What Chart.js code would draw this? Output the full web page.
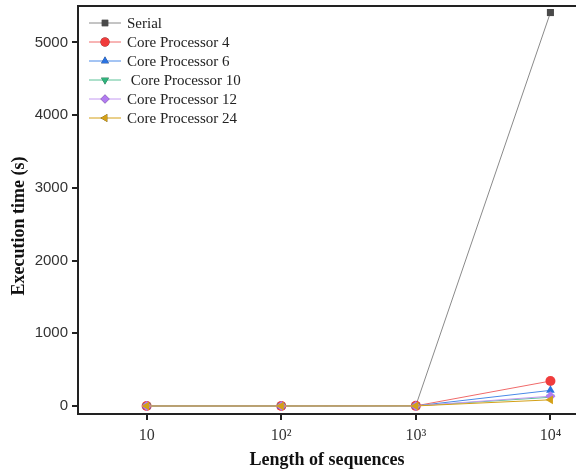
<!DOCTYPE html>
<html>
<head>
<meta charset="utf-8">
<script src="https://cdn.jsdelivr.net/npm/chart.js@4"></script>
<style>
  body { margin: 0; background: #fff; }
  #wrap { width: 576px; height: 472px; }
</style>
</head>
<body>
<div id="wrap"><canvas id="myChart" width="576" height="472"></canvas></div>
<script>
// x categories: length of sequences
const lengths = ['10', '10²', '10³', '10⁴'];

// execution time (s)
const serial = [0.5, 1, 5, 5410];
const core4  = [0.2, 0.4, 2, 343];
const core6  = [0.2, 0.3, 1.5, 215];
const core10 = [0.1, 0.3, 1.2, 120];
const core12 = [0.1, 0.3, 1.1, 135];
const core24 = [0.1, 0.2, 1, 85];

const yTicks = [0, 1000, 2000, 3000, 4000, 5000];

const names   = ['Serial', 'Core Processor 4', 'Core Processor 6', ' Core Processor 10', 'Core Processor 12', 'Core Processor 24'];
const series  = [serial, core4, core6, core10, core12, core24];
const colors  = ['#4a4a4a', '#f03c3c', '#2a72e0', '#2fb37c', '#b27cf0', '#d4a017'];
const lineCol = ['#8a8a8a', '#f06a6a', '#4a8ae8', '#5cc298', '#c49af2', '#d4a017'];
const styles  = ['rect', 'circle', 'triangle', 'triangle', 'rectRot', 'triangle'];
const rots    = [0, 0, 0, 180, 0, -90];

const toPoints = arr => arr.map((v, i) => ({x: i, y: v}));

const datasets = series.map((s, k) => ({
  label: names[k],
  data: toPoints(s),
  borderColor: lineCol[k],
  backgroundColor: colors[k],
  borderWidth: 1,
  pointStyle: styles[k],
  pointRotation: rots[k],
  pointRadius: 5,
  pointBorderWidth: 0,
  order: 6 - k,
}));

// frame top line, y title and hand drawn legend inside the plot
const extras = {
  id: 'extras',
  afterDraw(chart) {
    const ctx = chart.ctx;
    const a = chart.chartArea;
    ctx.save();
    ctx.strokeStyle = '#222';
    ctx.lineWidth = 2;
    ctx.beginPath();
    ctx.moveTo(a.left, a.top);
    ctx.lineTo(576, a.top);
    ctx.moveTo(a.right - 1, a.bottom);
    ctx.lineTo(576, a.bottom);
    ctx.stroke();

    // y axis title (sits a bit below the middle in the original)
    ctx.save();
    ctx.translate(19, 226);
    ctx.rotate(-Math.PI / 2);
    ctx.font = 'bold 18px "Liberation Serif"';
    ctx.fillStyle = '#111';
    ctx.textAlign = 'center';
    ctx.textBaseline = 'middle';
    ctx.fillText('Execution time (s)', 0, 0);
    ctx.restore();

    ctx.font = '15px "Liberation Serif"';
    ctx.textBaseline = 'middle';
    chart.data.datasets.forEach((ds, k) => {
      const y = 23 + k * 19;
      ctx.strokeStyle = ds.borderColor;
      ctx.lineWidth = 1;
      ctx.beginPath();
      ctx.moveTo(89, y);
      ctx.lineTo(121, y);
      ctx.stroke();
      Chart.helpers.drawPoint(ctx, {
        pointStyle: ds.pointStyle, rotation: ds.pointRotation,
        radius: 4.5, borderWidth: 0
      }, 105, y);
      ctx.fillStyle = ds.backgroundColor;
      ctx.fill();
      ctx.fillStyle = '#222';
      ctx.fillText(ds.label, 127, y + 1);
    });
    ctx.restore();
  }
};

const config = {
  type: 'line',
  data: { datasets: datasets },
  options: {
    responsive: false,
    animation: false,
    layout: { autoPadding: false, padding: { top: 6, right: 0, left: 0, bottom: 0 } },
    scales: {
      x: {
        type: 'linear',
        min: -0.51,
        max: 3.19,
        afterBuildTicks: s => { s.ticks = lengths.map((l, i) => ({value: i})); },
        afterFit: s => { s.height = 58; s.paddingRight = 0; s.paddingLeft = 0; },
        grid: { drawOnChartArea: false, drawTicks: true, tickLength: 6, color: '#222', lineWidth: 2 },
        border: { color: '#222', width: 2 },
        ticks: {
          color: '#333',
          padding: 6,
          font: { family: 'Liberation Serif', size: 16 },
          callback: v => lengths[v],
        },
        title: {
          display: true,
          text: 'Length of sequences',
          color: '#111',
          font: { family: 'Liberation Serif', size: 18, weight: 'bold' },
          padding: { top: 0, bottom: 1 },
        },
      },
      y: {
        min: -110,
        max: 5500,
        afterBuildTicks: s => { s.ticks = yTicks.map(v => ({value: v})); },
        afterFit: s => { s.width = 78; s.paddingTop = 0; s.paddingBottom = 0; },
        grid: { drawOnChartArea: false, drawTicks: true, tickLength: 6, color: '#222', lineWidth: 2 },
        border: { color: '#222', width: 2 },
        ticks: {
          color: '#333',
          padding: 4,
          font: { family: 'Liberation Sans', size: 15 },
          callback: v => String(v),
        },
        title: { display: false },
      },
    },
    plugins: {
      legend: { display: false },
      tooltip: { enabled: false },
    },
  },
  plugins: [extras],
};

const myChart = new Chart(document.getElementById('myChart'), config);
</script>
</body>
</html>
